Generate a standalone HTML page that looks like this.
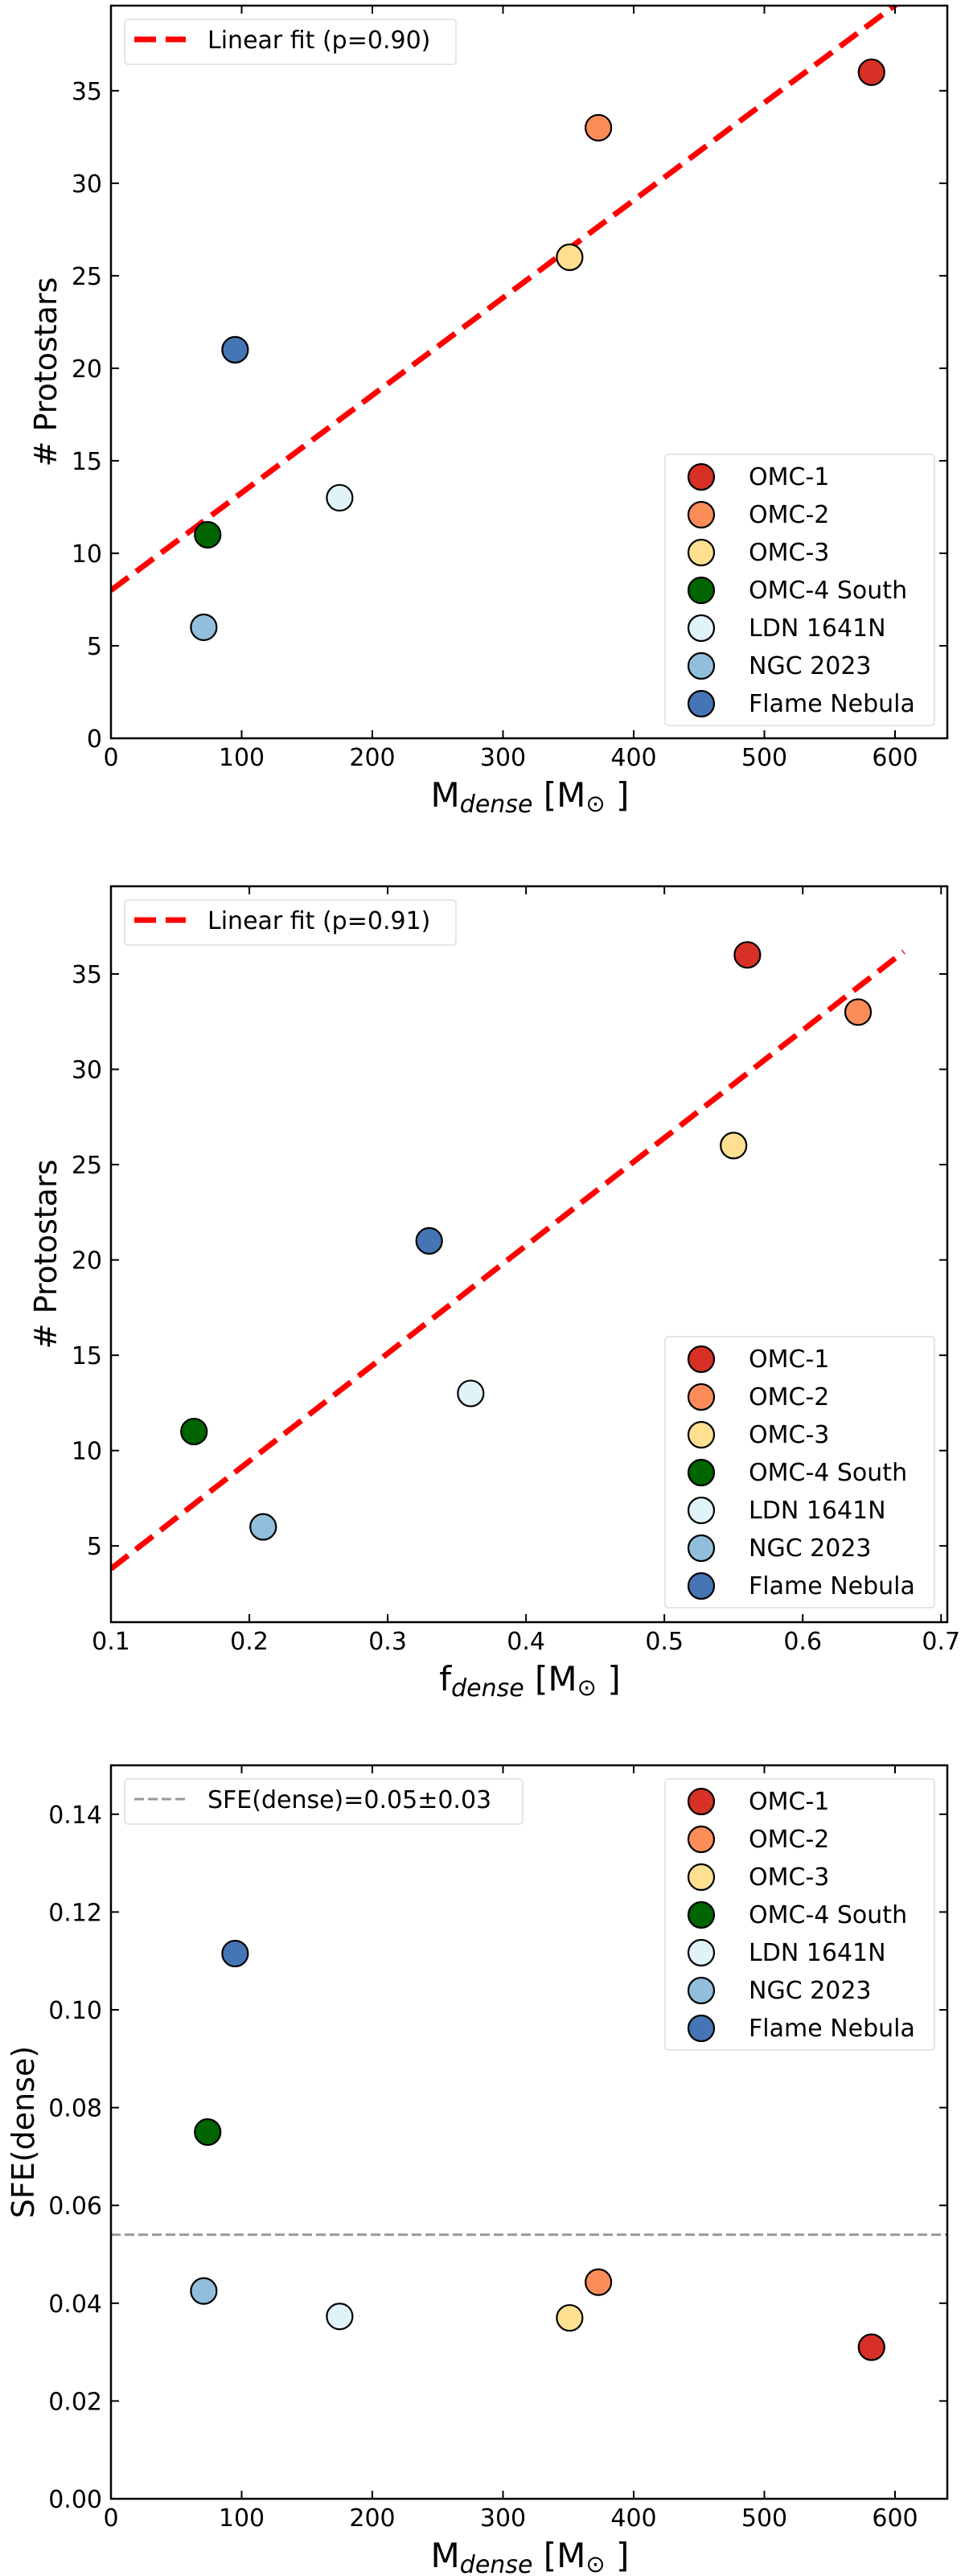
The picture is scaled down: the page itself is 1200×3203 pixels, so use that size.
<!DOCTYPE html>
<html><head><meta charset="utf-8"><style>
html,body{margin:0;padding:0;background:#fff;}
svg{display:block;font-family:"DejaVu Sans","Liberation Sans",sans-serif;}
</style></head><body>
<svg id="fig" width="1200" height="3203" viewBox="0 0 1200 3203" xmlns="http://www.w3.org/2000/svg"></svg>
<script>
// ---- data ----
const regions = ["OMC-1","OMC-2","OMC-3","OMC-4 South","LDN 1641N","NGC 2023","Flame Nebula"];
const colors = ["#d73027","#fc8d59","#fee090","#006400","#e0f3f8","#91bfdb","#4575b4"];
const mDense = [582,373,351,74,175,71,95];
const protostars = [36,33,26,11,13,6,21];
const fDense = [0.56,0.64,0.55,0.16,0.36,0.21,0.33];
const sfeDense = [0.031,0.0443,0.037,0.075,0.0373,0.0425,0.1115];
const fit1 = [8.0, 0.0527];      // intercept, slope
const fit2 = [-1.85, 56.5];
const fit2Range = [0.1, 0.673];
const sfeMean = [0.054];
const xTicksM = [0,100,200,300,400,500,600];
const xTicksF = [0.1,0.2,0.3,0.4,0.5,0.6,0.7];
const yTicksN1 = [0,5,10,15,20,25,30,35];
const yTicksN2 = [5,10,15,20,25,30,35];
const yTicksS = [0,0.02,0.04,0.06,0.08,0.10,0.12,0.14];

const NS="http://www.w3.org/2000/svg";
const svg=document.getElementById('fig');
function mk(tag,attrs,parent){const e=document.createElementNS(NS,tag);for(const k in attrs)e.setAttribute(k,attrs[k]);(parent||svg).appendChild(e);return e;}

function makeAxes(name,top,bottom,left,right,x0,x1,y0,y1){
  const g=mk('g',{});
  
  
  const sx=v=>left+(v-x0)/(x1-x0)*(right-left);
  const sy=v=>bottom-(v-y0)/(y1-y0)*(bottom-top);
  return {g,sx,sy,top,bottom,left,right};
}
function frame(A){
  const r=mk('rect',{x:A.left,y:A.top,width:A.right-A.left,height:A.bottom-A.top,fill:'none',stroke:'#000','stroke-width':2.5},A.g);
  
  
}
function xTicks(A,ticks,fmt){
  ticks.forEach(t=>{
    const x=A.sx(t);
    mk('line',{x1:x,x2:x,y1:A.bottom,y2:A.bottom-10,stroke:'#000','stroke-width':2},A.g);
    mk('line',{x1:x,x2:x,y1:A.top,y2:A.top+10,stroke:'#000','stroke-width':2},A.g);
    const tx=mk('text',{x:x,y:A.bottom+34,'font-size':30,'text-anchor':'middle',fill:'#000'},A.g);
    tx.textContent=fmt(t);
    
    
  });
}
function yTicks(A,ticks,fmt){
  ticks.forEach(t=>{
    const y=A.sy(t);
    mk('line',{x1:A.left,x2:A.left+10,y1:y,y2:y,stroke:'#000','stroke-width':2},A.g);
    mk('line',{x1:A.right,x2:A.right-10,y1:y,y2:y,stroke:'#000','stroke-width':2},A.g);
    const tx=mk('text',{x:127,y:y+11,'font-size':30,'text-anchor':'end',fill:'#000'},A.g);
    tx.textContent=fmt(t);
    
    
  });
}
function yLabel(A,text,bx){
  const cy=(A.top+A.bottom)/2;
  const t=mk('text',{x:0,y:0,'font-size':38,'text-anchor':'middle',transform:`translate(${bx},${cy}) rotate(-90)`,fill:'#000'},A.g);
  t.textContent=text;
  
  
}
function xLabel(A,main){
  const t=mk('text',{x:659,y:A.bottom+85,'font-size':42,'text-anchor':'middle',fill:'#000'},A.g);
  
  
  const a=mk('tspan',{},t);a.textContent=main;
  const b=mk('tspan',{'font-size':30,'font-style':'italic',dy:7},t);b.textContent='dense';
  const c=mk('tspan',{dy:-7},t);c.textContent=' [M';
  const d=mk('tspan',{'font-size':29,dy:6},t);d.textContent='\u2299';
  const e=mk('tspan',{dy:-6},t);e.textContent=' ]';
}
function points(A,xs,ys){
  xs.forEach((xv,i)=>{
    const c=mk('circle',{cx:A.sx(xv),cy:A.sy(ys[i]),r:16,fill:colors[i],stroke:'#000','stroke-width':2.2},A.g);
    
    
  });
}
function legendPoints(A,top){
  const g=mk('g',{},A.g);
  
  
  mk('rect',{x:827,y:top,width:335,height:337,rx:4,fill:'#fff','fill-opacity':0.85,stroke:'#ddd','stroke-width':1.5},g);
  regions.forEach((r,i)=>{
    const y=top+28+i*47;
    const c=mk('circle',{cx:872,cy:y,r:16,fill:colors[i],stroke:'#000','stroke-width':2.2},g);
    
    
    const t=mk('text',{x:931,y:y+10,'font-size':30,fill:'#000'},g);
    t.textContent=r;
    
    
  });
}
function legendLine(A,top,w,text,stroke,sw,dash){
  const g=mk('g',{},A.g);
  
  
  mk('rect',{x:155,y:top,width:w,height:56,rx:4,fill:'#fff','fill-opacity':0.85,stroke:'#ddd','stroke-width':1.5},g);
  mk('line',{x1:167,x2:231,y1:top+25,y2:top+25,stroke:stroke,'stroke-width':sw,'stroke-dasharray':dash},g);
  const t=mk('text',{x:258,y:top+36,'font-size':30,fill:'#000'},g);
  t.textContent=text;
  
  
}
function clip(A,id){
  const cp=mk('clipPath',{id:id});
  mk('rect',{x:A.left,y:A.top,width:A.right-A.left,height:A.bottom-A.top},cp);
}

// ---- Panel 1 ----
const A1=makeAxes('panel-protostars-vs-mass',7,918,138,1178,0,640,0,39.6);
clip(A1,'c1');
{
  const l=mk('line',{x1:A1.sx(0),y1:A1.sy(fit1[0]),x2:A1.sx(640),y2:A1.sy(fit1[0]+fit1[1]*640),stroke:'#ff0000','stroke-width':7,'stroke-dasharray':'27 12','clip-path':'url(#c1)'},A1.g);
  
  
}
points(A1,mDense,protostars);
frame(A1);
xTicks(A1,xTicksM,v=>String(v));
yTicks(A1,yTicksN1,v=>String(v));
yLabel(A1,'# Protostars',70);
xLabel(A1,'M');
legendLine(A1,24,412,'Linear fit (p=0.90)','#ff0000',7,'27 12');
legendPoints(A1,565);

// ---- Panel 2 ----
const A2=makeAxes('panel-protostars-vs-fraction',1102,2017,138,1178,0.1,0.7045,1.0,39.6);
clip(A2,'c2');
{
  const l=mk('line',{x1:A2.sx(fit2Range[0]),y1:A2.sy(fit2[0]+fit2[1]*fit2Range[0]),x2:A2.sx(fit2Range[1]),y2:A2.sy(fit2[0]+fit2[1]*fit2Range[1]),stroke:'#ff0000','stroke-width':7,'stroke-dasharray':'27 12','clip-path':'url(#c2)'},A2.g);
  
  
}
points(A2,fDense,protostars);
frame(A2);
xTicks(A2,xTicksF,v=>v.toFixed(1));
yTicks(A2,yTicksN2,v=>String(v));
yLabel(A2,'# Protostars',70);
xLabel(A2,'f');
legendLine(A2,1119,412,'Linear fit (p=0.91)','#ff0000',7,'27 12');
legendPoints(A2,1662);

// ---- Panel 3 ----
const A3=makeAxes('panel-sfe-vs-mass',2195,3107,138,1178,0,640,0,0.15);
{
  const l=mk('line',{x1:A3.left,y1:A3.sy(sfeMean[0]),x2:A3.right,y2:A3.sy(sfeMean[0]),stroke:'#999','stroke-width':3,'stroke-dasharray':'12 5'},A3.g);
  
  
}
points(A3,mDense,sfeDense);
frame(A3);
xTicks(A3,xTicksM,v=>String(v));
yTicks(A3,yTicksS,v=>v.toFixed(2));
yLabel(A3,'SFE(dense)',42);
xLabel(A3,'M');
legendLine(A3,2212,495,'SFE(dense)=0.05\u00b10.03','#999',3,'12 5');
legendPoints(A3,2212);
</script>
</body></html>
